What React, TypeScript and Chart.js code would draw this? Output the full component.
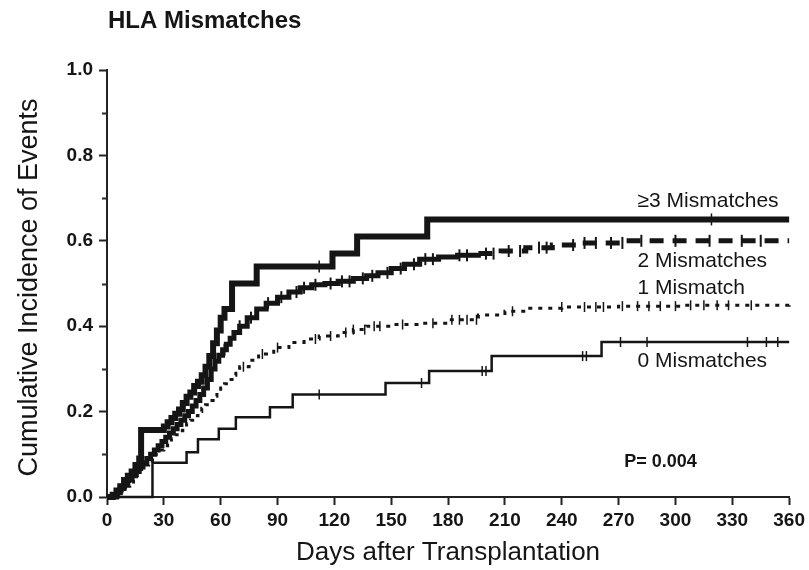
import React, { useEffect, useRef } from "react";
import { Chart, registerables } from "chart.js";

Chart.register(...registerables);

const FONT = "'Liberation Sans', Arial, Helvetica, sans-serif";
const INK = "#151515";

// axis ticks
const xTickValues = [0, 30, 60, 90, 120, 150, 180, 210, 240, 270, 300, 330, 360];
const yMajorTicks = [0, 0.2, 0.4, 0.6, 0.8, 1.0];
const yMinorTicks = [0.1, 0.3, 0.5, 0.7, 0.9];

// >=3 mismatches
const days3 = [0, 3, 5, 7, 9, 11, 13, 15, 17, 18, 30, 32, 34, 36, 38, 40, 42, 44, 46, 48, 50, 52, 54, 56, 58, 60, 62, 66, 79, 119, 132, 169, 360];
const cum3 = [0, 0.005, 0.015, 0.025, 0.04, 0.05, 0.06, 0.075, 0.09, 0.157, 0.165, 0.175, 0.185, 0.195, 0.205, 0.22, 0.235, 0.245, 0.26, 0.27, 0.285, 0.305, 0.33, 0.36, 0.39, 0.42, 0.44, 0.5, 0.54, 0.57, 0.61, 0.65, 0.65];
const cens3 = [112, 319];

// 2 mismatches
const days2 = [0, 3, 5, 7, 9, 11, 13, 15, 17, 19, 21, 23, 25, 27, 29, 31, 33, 35, 37, 39, 41, 43, 45, 47, 49, 51, 53, 55, 57, 59, 61, 63, 65, 67, 70, 74, 79, 84, 90, 96, 102, 108, 115, 122, 130, 137, 143, 150, 157, 165, 175, 185, 196, 208, 221, 235, 250, 273, 360];
const cum2 = [0, 0, 0.01, 0.02, 0.03, 0.04, 0.05, 0.06, 0.07, 0.08, 0.09, 0.1, 0.11, 0.12, 0.13, 0.14, 0.15, 0.16, 0.17, 0.18, 0.19, 0.2, 0.213, 0.226, 0.24, 0.255, 0.275, 0.3, 0.318, 0.332, 0.345, 0.358, 0.372, 0.385, 0.4, 0.42, 0.44, 0.454, 0.468, 0.48, 0.49, 0.497, 0.5, 0.505, 0.512, 0.518, 0.525, 0.535, 0.545, 0.557, 0.562, 0.566, 0.57, 0.576, 0.584, 0.59, 0.595, 0.6, 0.6];
const cens2 = [62, 70, 76, 85, 92, 100, 104, 110, 118, 124, 128, 135, 140, 148, 155, 162, 168, 172, 186, 190, 200, 204, 212, 218, 228, 232, 246, 252, 258, 266, 272, 282, 300, 318, 335, 345];

// 1 mismatch
const days1 = [0, 4, 6, 8, 10, 12, 14, 16, 18, 20, 22, 24, 26, 28, 30, 32, 34, 36, 38, 40, 42, 44, 46, 48, 50, 52, 54, 56, 58, 60, 62, 64, 66, 68, 70, 75, 80, 88, 96, 104, 112, 122, 130, 137, 150, 165, 180, 196, 210, 221, 240, 270, 305, 360];
const cum1 = [0, 0, 0.008, 0.017, 0.025, 0.035, 0.045, 0.055, 0.065, 0.075, 0.085, 0.095, 0.103, 0.11, 0.12, 0.128, 0.137, 0.146, 0.155, 0.163, 0.172, 0.18, 0.19, 0.2, 0.208, 0.216, 0.226, 0.236, 0.245, 0.255, 0.265, 0.275, 0.285, 0.295, 0.305, 0.32, 0.335, 0.35, 0.362, 0.37, 0.377, 0.385, 0.392, 0.4, 0.404, 0.407, 0.415, 0.426, 0.435, 0.442, 0.445, 0.447, 0.449, 0.45];
const cens1 = [72, 82, 90, 110, 118, 126, 130, 136, 141, 144, 156, 172, 182, 186, 190, 195, 214, 240, 252, 258, 262, 272, 280, 286, 292, 300, 308, 315, 322, 328, 340];

// 0 mismatches
const days0 = [0, 24, 42, 48, 59, 68, 86, 98, 147, 170, 203, 261, 360];
const cum0 = [0, 0.08, 0.105, 0.135, 0.16, 0.187, 0.21, 0.24, 0.267, 0.295, 0.33, 0.363, 0.363];
const cens0 = [112, 166, 198, 200, 251, 253, 271, 285, 338, 348, 354];

// curve labels: [text, day, value]
const curveLabels: [string, number, number][] = [
  ["\u22653 Mismatches", 280, 0.693],
  ["2 Mismatches", 280, 0.553],
  ["1 Mismatch", 280, 0.489],
  ["0 Mismatches", 280, 0.318],
];
const pValueText = "P= 0.004";
const pValuePos: [number, number] = [273, 0.082];

const toPoints = (d: number[], v: number[]) => d.map((x, i) => ({ x, y: v[i] }));
const stepAt = (d: number[], v: number[], t: number) => {
  let y = 0;
  for (let i = 0; i < d.length; i++) if (d[i] <= t) y = v[i];
  return y;
};
const censorPoints = (c: number[], d: number[], v: number[]) => c.map((x) => ({ x, y: stepAt(d, v, x) }));

export default function App() {
  const ref = useRef<HTMLCanvasElement | null>(null);

  useEffect(() => {
    if (!ref.current) return;

    const textPlugin = {
      id: "texts",
      afterDraw(chart: any) {
        const ctx = chart.ctx as CanvasRenderingContext2D;
        const { chartArea } = chart;
        const xs = chart.scales.x;
        const ys = chart.scales.y;
        ctx.save();
        // minor y ticks
        ctx.strokeStyle = "#2a2a2a";
        ctx.lineWidth = 2;
        yMinorTicks.forEach((v) => {
          const py = Math.round(ys.getPixelForValue(v)) + 0.5;
          ctx.beginPath();
          ctx.moveTo(chartArea.left - 5, py);
          ctx.lineTo(chartArea.left, py);
          ctx.stroke();
        });
        ctx.fillStyle = INK;
        // title
        ctx.font = `bold 24px ${FONT}`;
        ctx.textAlign = "left";
        ctx.textBaseline = "middle";
        ctx.fillText("HLA Mismatches", 108, 21);
        // x title
        ctx.font = `26px ${FONT}`;
        ctx.textAlign = "center";
        ctx.textBaseline = "middle";
        ctx.fillText("Days after Transplantation", (chartArea.left + chartArea.right) / 2, 553);
        // y title
        ctx.save();
        ctx.font = `27px ${FONT}`;
        ctx.translate(37, (chartArea.top + chartArea.bottom) / 2 + 4);
        ctx.rotate(-Math.PI / 2);
        ctx.textBaseline = "alphabetic";
        ctx.textAlign = "center";
        ctx.fillText("Cumulative Incidence of Events", 0, 0);
        ctx.restore();
        // curve labels
        ctx.font = `21px ${FONT}`;
        ctx.textAlign = "left";
        ctx.textBaseline = "middle";
        curveLabels.forEach(([t, d, v]) => {
          ctx.fillText(t, xs.getPixelForValue(d), ys.getPixelForValue(v));
        });
        ctx.font = `bold 18px ${FONT}`;
        ctx.fillText(pValueText, xs.getPixelForValue(pValuePos[0]), ys.getPixelForValue(pValuePos[1]));
        ctx.restore();
      },
    };

    const lineBase = {
      type: "line" as const,
      stepped: true,
      pointRadius: 0,
      borderColor: INK,
      fill: false,
      clip: false as any,
      borderCapStyle: "butt" as const,
    };
    const censorBase = {
      type: "scatter" as const,
      showLine: false,
      pointStyle: "line" as const,
      rotation: 90,
      borderColor: INK,
      backgroundColor: INK,
      clip: false as any,
    };

    const chart = new Chart(ref.current, {
      type: "line",
      data: {
        datasets: [
          { ...lineBase, label: "0", data: toPoints(days0, cum0), borderWidth: 2.5 },
          { ...lineBase, label: "1", data: toPoints(days1, cum1), borderWidth: 3, borderDash: [4, 6] },
          {
            ...lineBase,
            label: "2",
            data: toPoints(days2, cum2),
            borderWidth: 5,
            segment: {
              borderDash: (c: any) => (c.p0.parsed.x >= 190 ? [14, 9] : undefined),
            },
          },
          { ...lineBase, label: "3", data: toPoints(days3, cum3), borderWidth: 6 },
          { ...censorBase, label: "c0", data: censorPoints(cens0, days0, cum0), pointRadius: 5, borderWidth: 1.5 },
          { ...censorBase, label: "c1", data: censorPoints(cens1, days1, cum1), pointRadius: 5, borderWidth: 1.5 },
          { ...censorBase, label: "c2", data: censorPoints(cens2, days2, cum2), pointRadius: 6, borderWidth: 2 },
          { ...censorBase, label: "c3", data: censorPoints(cens3, days3, cum3), pointRadius: 6, borderWidth: 1.5 },
        ] as any,
      },
      options: {
        animation: false,
        responsive: false,
        devicePixelRatio: 1,
        layout: { padding: { top: 70, right: 17, left: 0, bottom: 0 } },
        plugins: { legend: { display: false }, tooltip: { enabled: false }, title: { display: false } },
        scales: {
          x: {
            type: "linear",
            min: 0,
            max: 360,
            afterBuildTicks: (s: any) => {
              s.ticks = xTickValues.map((v) => ({ value: v }));
            },
            afterFit: (s: any) => {
              s.height = 73;
            },
            border: { display: true, color: "#222", width: 2 },
            grid: { display: true, drawOnChartArea: false, tickLength: 8, tickColor: "#222", tickWidth: 2 },
            ticks: {
              color: INK,
              font: { family: FONT, size: 19, weight: "bold" },
              padding: 4,
              maxRotation: 0,
              autoSkip: false,
            },
          },
          y: {
            type: "linear",
            min: 0,
            max: 1,
            afterBuildTicks: (s: any) => {
              s.ticks = [...yMajorTicks, ...yMinorTicks].sort((a, b) => a - b).map((v) => ({ value: v }));
            },
            afterFit: (s: any) => {
              s.width = 107;
            },
            border: { display: true, color: "#222", width: 2 },
            grid: {
              display: true,
              drawOnChartArea: false,
              tickLength: 8,
              tickWidth: 2,
              tickColor: (c: any) => (Math.round(c.tick.value * 10) % 2 === 0 ? "#222" : "rgba(0,0,0,0)"),
            },
            ticks: {
              color: INK,
              font: { family: FONT, size: 19, weight: "bold" },
              padding: 6,
              autoSkip: false,
              callback: (v: any) => (Math.round(Number(v) * 10) % 2 === 0 ? Number(v).toFixed(1) : ""),
            },
          },
        },
      },
      plugins: [textPlugin],
    });
    return () => chart.destroy();
  }, []);

  return (
    <div style={{ position: "absolute", left: 0, top: 0, width: 809, height: 570, background: "#fff" }}>
      <canvas ref={ref} width={809} height={570} style={{ width: 809, height: 570 }} />
    </div>
  );
}
